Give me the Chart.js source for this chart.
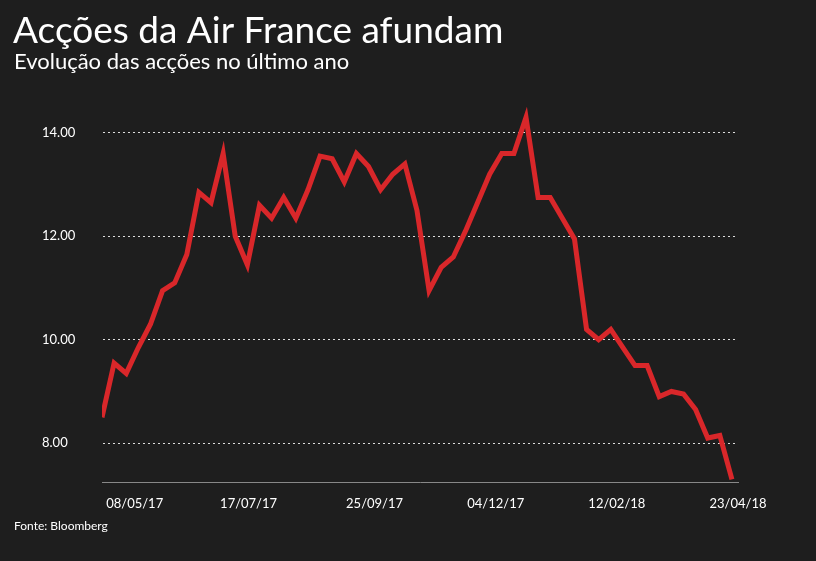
<!DOCTYPE html>
<html><head><meta charset="utf-8">
<script src="https://cdn.jsdelivr.net/npm/chart.js@4/dist/chart.umd.min.js"></script>
<style>html,body{margin:0;background:#1e1e1e;}#c{display:block}</style></head>
<body><div style="width:816px;height:561px"><canvas id="c"></canvas></div>
<script>
const prices=[8.5,9.55,9.35,9.85,10.3,10.95,11.1,11.65,12.85,12.65,13.6,12.0,11.45,12.6,12.35,12.75,12.35,12.9,13.55,13.5,13.05,13.6,13.35,12.9,13.2,13.4,12.5,10.95,11.4,11.6,12.1,12.65,13.2,13.6,13.6,14.3,12.75,12.75,12.35,11.95,10.2,10.0,10.2,9.85,9.5,9.5,8.9,9.0,8.95,8.65,8.1,8.15,7.3];
const tickPos=[2.7,12.1,22.5,32.5,42.5,52.5];
const tickLabels=['08/05/17','17/07/17','25/09/17','04/12/17','12/02/18','23/04/18'];
const yTicks=[8,10,12,14];
const font='Lato, "Open Sans", sans-serif';
const textPlugin={id:'txt',afterDraw(ch){const c=ch.ctx;c.save();c.fillStyle='#fff';c.textBaseline='alphabetic';
c.font='37px '+font;c.fillText('Acções da Air France afundam',13,43);
c.font='22px '+font;c.fillText('Evolução das acções no último ano',14,69);
c.font='12px '+font;c.fillText('Fonte: Bloomberg',14,530);c.restore();}};
new Chart(document.getElementById('c'),{type:'line',
data:{datasets:[{data:prices.map((v,i)=>({x:i,y:v})),borderColor:'#d9272a',borderWidth:5,pointRadius:0,tension:0,borderJoinStyle:'miter'}]},
options:{responsive:true,maintainAspectRatio:false,animation:false,
layout:{padding:{left:42,right:78,top:107,bottom:34}},
plugins:{legend:{display:false},tooltip:{enabled:false}},
scales:{
x:{type:'linear',min:0,max:52.5,afterBuildTicks(s){s.ticks=tickPos.map(v=>({value:v}));},
afterFit(s){s.height=45;},
ticks:{color:'#fff',font:{family:font,size:13},callback:(v,i)=>tickLabels[i],maxRotation:0,autoSkip:false,padding:6},
grid:{display:false,drawOnChartArea:false},border:{color:'#888'}},
y:{min:7.25,max:14.5,afterBuildTicks(s){s.ticks=yTicks.map(v=>({value:v}));},
afterFit(s){s.width=60;},
ticks:{color:'#fff',font:{family:font,size:13},callback:v=>v.toFixed(2),crossAlign:'far'},
grid:{color:'#ddd',drawTicks:false},border:{display:true,color:'rgba(0,0,0,0)',dash:[2,3]}}}},
plugins:[textPlugin]});
</script></body></html>
